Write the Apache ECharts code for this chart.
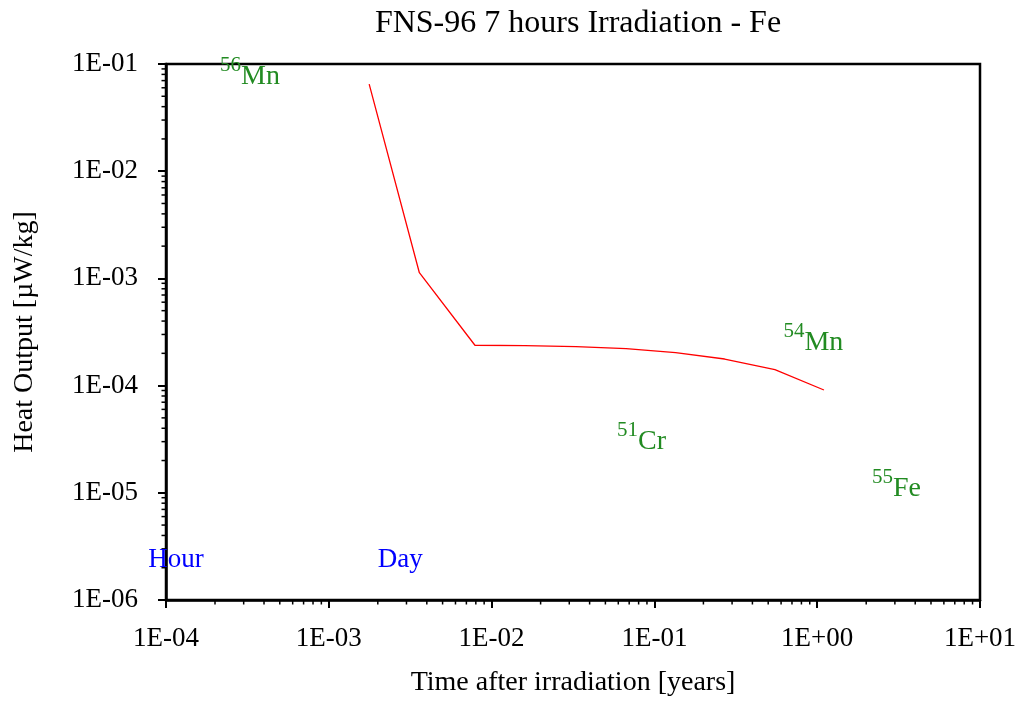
<!DOCTYPE html>
<html>
<head>
<meta charset="utf-8">
<script src="https://cdn.jsdelivr.net/npm/echarts@6/dist/echarts.min.js"></script>
<style>
html,body{margin:0;padding:0;background:#fff;}
#chart{width:1023px;height:702px;}
</style>
</head>
<body>
<div id="chart"></div>
<script>
// ---- data ----
const timeYears = [1.77e-3, 3.6e-3, 7.9e-3, 0.016, 0.033, 0.067, 0.135, 0.27, 0.55, 1.1];
const heatOutput = [0.065, 1.13e-3, 2.38e-4, 2.36e-4, 2.31e-4, 2.21e-4, 2.03e-4, 1.77e-4, 1.41e-4, 9.1e-5];

const xTickLabels = ['1E-04', '1E-03', '1E-02', '1E-01', '1E+00', '1E+01'];
const yTickLabels = ['1E-06', '1E-05', '1E-04', '1E-03', '1E-02', '1E-01'];

const isoMass = ['56', '54', '51', '55'];
const isoElem = ['Mn', 'Mn', 'Cr', 'Fe'];
const isoX = [2.15e-4, 0.62, 0.059, 2.17];
const isoY = [0.088, 2.9e-4, 3.46e-5, 1.26e-5];

const periodNames = ['Hour', 'Day'];
const periodX = [1.15e-4, 2.75e-3];
const periodY = [2.47e-6, 2.47e-6];

// ---- chart ----
const X_MIN = 1e-4, X_MAX = 10, Y_MIN = 1e-6, Y_MAX = 0.1;
const FONT = '"Liberation Serif", "Times New Roman", serif';

const xMinor = [], yMinor = [];
for (let e = -4; e < 1; e++) for (let m = 2; m <= 9; m++) xMinor.push([m * Math.pow(10, e), Y_MIN]);
for (let e = -6; e < -1; e++) for (let m = 2; m <= 9; m++) yMinor.push([X_MIN, m * Math.pow(10, e)]);

const chart = echarts.init(document.getElementById('chart'), null, {renderer: 'canvas'});
chart.setOption({
  animation: false,
  backgroundColor: '#fff',
  title: {
    text: 'FNS-96 7 hours Irradiation - Fe',
    left: 573, top: 3, textAlign: 'center',
    textStyle: {fontFamily: FONT, fontSize: 32, fontWeight: 'normal', color: '#000'}
  },
  grid: {left: 166, right: 43, top: 64, bottom: 102, show: true, borderColor: '#000', borderWidth: 2.5, backgroundColor: 'transparent'},
  xAxis: {
    type: 'log', logBase: 10, min: X_MIN, max: X_MAX,
    name: 'Time after irradiation [years]', nameLocation: 'middle', nameGap: 69,
    nameTextStyle: {fontFamily: FONT, fontSize: 28, color: '#000'},
    axisLine: {show: true, lineStyle: {color: '#000', width: 2.5}},
    axisTick: {show: true, inside: false, length: 8, lineStyle: {color: '#000', width: 2}},
    axisLabel: {fontFamily: FONT, fontSize: 27, color: '#000', margin: 25,
      formatter: v => xTickLabels[Math.round(Math.log10(v)) + 4]},
    splitLine: {show: false}
  },
  yAxis: {
    type: 'log', logBase: 10, min: Y_MIN, max: Y_MAX,
    name: 'Heat Output [\u00b5W/kg]', nameLocation: 'middle', nameGap: 127,
    nameTextStyle: {fontFamily: FONT, fontSize: 28, color: '#000'},
    axisLine: {show: true, lineStyle: {color: '#000', width: 2.5}},
    axisTick: {show: true, inside: false, length: 8, lineStyle: {color: '#000', width: 2}},
    axisLabel: {fontFamily: FONT, fontSize: 27, color: '#000', margin: 28,
      formatter: v => yTickLabels[Math.round(Math.log10(v)) + 6]},
    splitLine: {show: false}
  },
  series: [
    {
      type: 'line', data: timeYears.map((t, i) => [t, heatOutput[i]]),
      showSymbol: false, symbol: 'none',
      lineStyle: {color: '#ff0000', width: 1.3}
    },
    {
      type: 'custom', clip: false, silent: true, data: xMinor,
      renderItem: (params, api) => {
        const p = api.coord([api.value(0), api.value(1)]);
        return {type: 'line', shape: {x1: p[0], y1: p[1], x2: p[0], y2: p[1] + 4.5}, style: {stroke: '#000', lineWidth: 1.5}};
      }
    },
    {
      type: 'custom', clip: false, silent: true, data: yMinor,
      renderItem: (params, api) => {
        const p = api.coord([api.value(0), api.value(1)]);
        return {type: 'line', shape: {x1: p[0] - 4.5, y1: p[1], x2: p[0], y2: p[1]}, style: {stroke: '#000', lineWidth: 1.5}};
      }
    },
    {
      type: 'scatter', clip: false, silent: true, symbolSize: 0,
      itemStyle: {opacity: 1},
      data: isoX.map((x, i) => ({value: [x, isoY[i]], name: i})),
      label: {
        show: true, position: 'right', distance: 0, offset: [0, 3],
        formatter: p => '{s|' + isoMass[p.name] + '}{e|' + isoElem[p.name] + '}',
        rich: {
          s: {fontFamily: FONT, fontSize: 21, color: '#228b22', lineHeight: 21, verticalAlign: 'top'},
          e: {fontFamily: FONT, fontSize: 28, color: '#228b22', lineHeight: 36, verticalAlign: 'bottom'}
        }
      }
    },
    {
      type: 'scatter', clip: false, silent: true, symbolSize: 0,
      itemStyle: {opacity: 1},
      data: periodX.map((x, i) => ({value: [x, periodY[i]], name: periodNames[i]})),
      label: {show: true, position: 'inside', offset: [0, 2], formatter: p => p.name,
        fontFamily: FONT, fontSize: 27, color: '#0000ff'}
    }
  ]
});
</script>
</body>
</html>
